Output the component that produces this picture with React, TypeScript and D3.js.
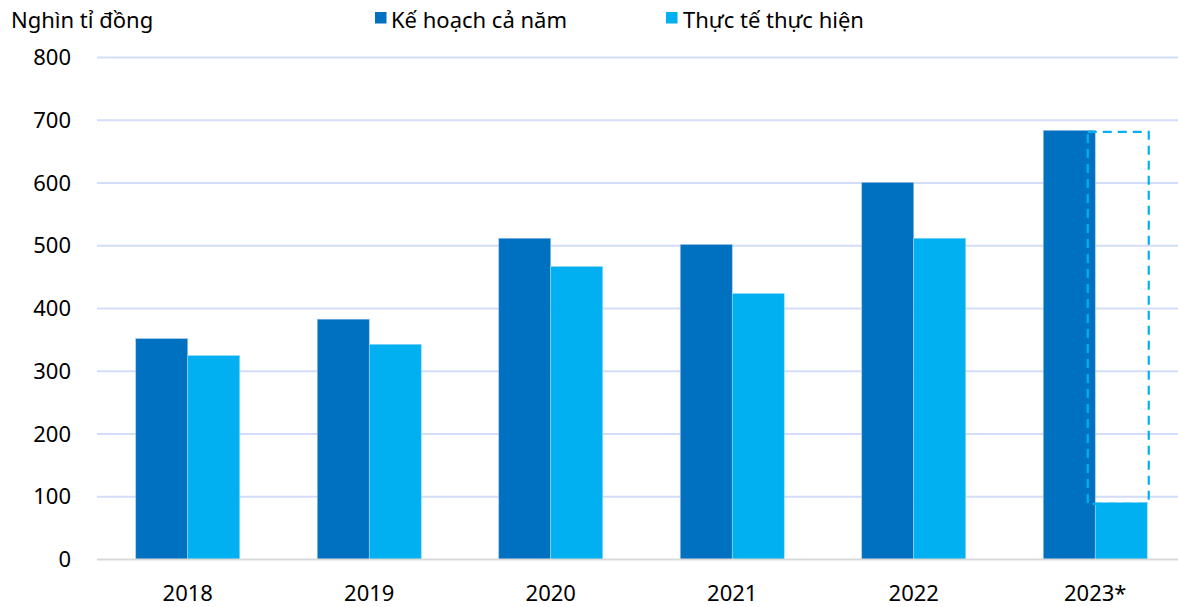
import React from "react";
import * as d3 from "d3";

const years = ["2018", "2019", "2020", "2021", "2022", "2023*"];
const planValues = [352, 383, 512, 502, 601, 684];
const actualValues = [325, 343, 467, 424, 512, 91];
const yTicks = [0, 100, 200, 300, 400, 500, 600, 700, 800];
const seriesNames = ["Kế hoạch cả năm", "Thực tế thực hiện"];
const unitLabel = "Nghìn tỉ đồng";

const W = 1178;
const H = 607;
const DARK = "#0070c0";
const LIGHT = "#00b0f0";
const FONT = "'Noto Sans', 'Open Sans', sans-serif";

export default function App() {
  const x = d3
    .scaleBand<string>()
    .domain(years)
    .range([97, 1186])
    .paddingInner(0.427)
    .paddingOuter(0.2135);
  const y = d3.scaleLinear().domain([0, 800]).range([559.5, 57.5]);
  const bw = x.bandwidth() / 2;
  const last = years.length - 1;
  const lx = (x(years[last]) as number) + bw;

  return (
    <svg
      width={W}
      height={H}
      style={{ position: "absolute", left: 0, top: 0, background: "#fff" }}
      fontFamily={FONT}
    >
      {yTicks.map((t) =>
        t === 0 ? null : (
          <line key={t} x1={97} x2={W} y1={y(t)} y2={y(t)} stroke="#d3ddf8" strokeWidth={2} />
        )
      )}
      {yTicks.map((t) => (
        <text key={"l" + t} x={71} y={y(t) + 7.5} textAnchor="end" fontSize={22} fill="#000">
          {t}
        </text>
      ))}
      {years.map((yr, i) => (
        <g key={yr}>
          <rect
            x={x(yr)}
            y={y(planValues[i])}
            width={bw}
            height={y(0) - y(planValues[i])}
            fill={DARK}
            stroke="#a9c9ea"
            strokeWidth={0.6}
          />
          <rect
            x={(x(yr) as number) + bw}
            y={y(actualValues[i])}
            width={bw}
            height={y(0) - y(actualValues[i])}
            fill={LIGHT}
            stroke="#9fdcf6"
            strokeWidth={0.6}
          />
          <text
            x={(x(yr) as number) + bw}
            y={601}
            textAnchor="middle"
            fontSize={22}
            fill="#000"
          >
            {yr}
          </text>
        </g>
      ))}
      <line x1={97} x2={W} y1={y(0)} y2={y(0)} stroke="#d9d9d9" strokeWidth={2} />
      <rect
        x={lx - 7.5}
        y={y(planValues[last]) + 1.5}
        width={bw + 9}
        height={y(actualValues[last]) - y(planValues[last])}
        fill="none"
        stroke={LIGHT}
        strokeWidth={2.2}
        strokeDasharray="9,6"
      />
      <text x={11} y={28} fontSize={22} fill="#000">
        {unitLabel}
      </text>
      <rect x={375} y={12} width={11.5} height={11.5} fill={DARK} />
      <text x={391} y={28} fontSize={22} fill="#000">
        {seriesNames[0]}
      </text>
      <rect x={666} y={12} width={11.5} height={11.5} fill={LIGHT} />
      <text x={683} y={28} fontSize={22} fill="#000">
        {seriesNames[1]}
      </text>
    </svg>
  );
}
